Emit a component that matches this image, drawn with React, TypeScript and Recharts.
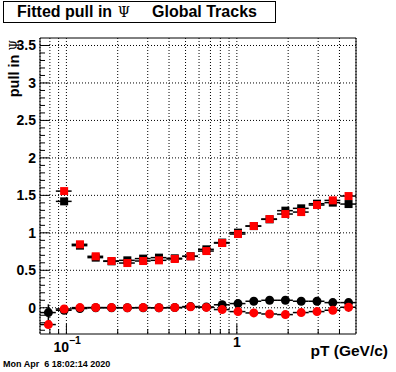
import React from 'react';
import { ScatterChart, Scatter, XAxis, YAxis, CartesianGrid, ErrorBar, ReferenceArea } from 'recharts';

// 20 log-spaced pT bins, 0.07 .. 5 GeV/c
const BIN_EDGES = [
  0.07, 0.0867, 0.1073, 0.1328, 0.1644, 0.2036, 0.252, 0.312, 0.3863, 0.4782, 0.5916,
  0.7329, 0.9073, 1.1233, 1.3906, 1.7216, 2.1313, 2.6385, 3.2665, 4.0439, 5.0,
];
const BIN_CENTERS = [
  0.0784, 0.097, 0.1201, 0.1486, 0.184, 0.2278, 0.282, 0.3492, 0.4323, 0.5351,
  0.6625, 0.8201, 1.0153, 1.257, 1.5561, 1.9265, 2.3849, 2.9525, 3.6552, 4.522,
];

// sigma of pull (squares), mean of pull (circles)
const BLACK_SQUARES = [
  null, 1.42, 0.829, 0.669, 0.62, 0.633, 0.656, 0.669, 0.66, 0.687,
  0.78, 0.87, 1.003, 1.09, 1.18, 1.296, 1.327, 1.389, 1.403, 1.384,
];
const RED_SQUARES = [
  null, 1.557, 0.847, 0.687, 0.624, 0.597, 0.624, 0.633, 0.651, 0.687,
  0.757, 0.864, 0.984, 1.091, 1.184, 1.251, 1.277, 1.371, 1.433, 1.491,
];
const BLACK_CIRCLES = [
  -0.064, -0.033, -0.01, 0.0, 0.001, 0.0, 0.001, 0.0, 0.002, 0.016,
  0.01, 0.04, 0.056, 0.087, 0.1, 0.1, 0.087, 0.087, 0.069, 0.069,
];
const RED_CIRCLES = [
  -0.224, -0.016, 0.002, 0.003, 0.002, 0.001, 0.002, 0.0, 0.003, 0.012,
  0.005, -0.024, -0.051, -0.069, -0.083, -0.091, -0.064, -0.051, -0.033, 0.007,
];
const BLACK_CIRCLE_ERR = [
  0.11, 0.02, 0.01, 0.01, 0.01, 0.01, 0.01, 0.01, 0.01, 0.01,
  0.01, 0.01, 0.01, 0.01, 0.01, 0.01, 0.015, 0.015, 0.02, 0.03,
];
const RED_CIRCLE_ERR = [
  0.03, 0.02, 0.01, 0.01, 0.01, 0.01, 0.01, 0.01, 0.01, 0.01,
  0.01, 0.01, 0.01, 0.01, 0.01, 0.01, 0.015, 0.015, 0.02, 0.06,
];

const X_TICKS = [0.08, 0.09, 0.1, 0.2, 0.3, 0.4, 0.5, 0.6, 0.7, 0.8, 0.9, 1, 2, 3, 4];
const X_MAJOR = [0.1, 1];
const Y_TICKS = [
  -0.3, -0.2, -0.1, 0, 0.1, 0.2, 0.3, 0.4, 0.5, 0.6, 0.7, 0.8, 0.9, 1, 1.1, 1.2, 1.3, 1.4, 1.5,
  1.6, 1.7, 1.8, 1.9, 2, 2.1, 2.2, 2.3, 2.4, 2.5, 2.6, 2.7, 2.8, 2.9, 3, 3.1, 3.2, 3.3, 3.4, 3.5,
];
const Y_MAJOR = [0, 0.5, 1, 1.5, 2, 2.5, 3, 3.5];

const FONT = "'Liberation Sans', Arial, sans-serif";

function points(values: (number | null)[], yErr?: number[]) {
  return BIN_CENTERS.map((x, i) => ({
    x,
    y: values[i],
    ex: [x - BIN_EDGES[i], BIN_EDGES[i + 1] - x],
    ey: yErr ? yErr[i] : 0,
  })).filter((p) => p.y !== null);
}

const square = (color: string) => (props: any) =>
  <rect x={props.cx - 4} y={props.cy - 4} width={8} height={8} fill={color} />;
const dot = (color: string) => (props: any) =>
  <circle cx={props.cx} cy={props.cy} r={4.5} fill={color} />;

const XTick = (props: any) => {
  const { x, y, payload } = props;
  const major = X_MAJOR.includes(payload.value);
  return (
    <g>
      <line x1={x} x2={x} y1={y} y2={y - (major ? 10 : 5)} stroke="#000" />
      {payload.value === 0.1 && (
        <text x={x - 13} y={y + 18} fontFamily={FONT} fontWeight="bold" fontSize={14}>
          10<tspan dy={-8} fontSize={10.5}>−1</tspan>
        </text>
      )}
      {payload.value === 1 && (
        <text x={x} y={y + 13} textAnchor="middle" fontFamily={FONT} fontWeight="bold" fontSize={14}>1</text>
      )}
    </g>
  );
};

const YTick = (props: any) => {
  const { x, y, payload } = props;
  const major = Y_MAJOR.includes(payload.value);
  return (
    <g>
      <line x1={x} x2={x + (major ? 9 : 5)} y1={y} y2={y} stroke="#000" />
      {major && (
        <text x={x - 4} y={y + 5} textAnchor="end" fontFamily={FONT} fontWeight="bold" fontSize={14}>
          {String(payload.value)}
        </text>
      )}
    </g>
  );
};

export default function App() {
  return (
    <div style={{ position: 'absolute', left: 0, top: 0, width: 396, height: 372, background: '#fff' }}>
      <ScatterChart width={396} height={372} margin={{ top: 38, right: 40, bottom: 0, left: 0 }}>
        <CartesianGrid stroke="#000" strokeDasharray="1 2" horizontalValues={Y_MAJOR} />
        <XAxis
          type="number" dataKey="x" scale="log" domain={[0.07, 5]} allowDataOverflow
          ticks={X_TICKS} interval={0} height={38} axisLine={false} tickLine={false}
          tickSize={0} tickMargin={0} tick={<XTick />}
        />
        <YAxis
          type="number" dataKey="y" domain={[-0.35, 3.6]} allowDataOverflow
          ticks={Y_TICKS} interval={0} width={40} axisLine={false} tickLine={false}
          tickSize={0} tickMargin={0} tick={<YTick />}
        />
        <ReferenceArea x1={0.07} x2={5} y1={-0.35} y2={3.6} fill="none" stroke="#000" strokeWidth={1} />
        <Scatter data={points(BLACK_SQUARES)} shape={square('#000')} isAnimationActive={false}>
          <ErrorBar dataKey="ex" direction="x" width={0} stroke="#000" />
        </Scatter>
        <Scatter data={points(BLACK_CIRCLES, BLACK_CIRCLE_ERR)} shape={dot('#000')} isAnimationActive={false}>
          <ErrorBar dataKey="ex" direction="x" width={0} stroke="#000" />
          <ErrorBar dataKey="ey" direction="y" width={0} stroke="#000" />
        </Scatter>
        <Scatter data={points(RED_SQUARES)} shape={square('#ff0000')} isAnimationActive={false}>
          <ErrorBar dataKey="ex" direction="x" width={0} stroke="#000" />
        </Scatter>
        <Scatter data={points(RED_CIRCLES, RED_CIRCLE_ERR)} shape={dot('#ff0000')} isAnimationActive={false}>
          <ErrorBar dataKey="ex" direction="x" width={0} stroke="#000" />
          <ErrorBar dataKey="ey" direction="y" width={0} stroke="#000" />
        </Scatter>
      </ScatterChart>
      <svg width={396} height={372} style={{ position: 'absolute', left: 0, top: 0, pointerEvents: 'none' }}>
        <rect x={3.5} y={1.5} width={272} height={21} fill="#fff" stroke="#000" />
        <text x={17} y={17} fontFamily={FONT} fontWeight="bold" fontSize={16}>Fitted pull in</text>
        <text x={124} y={17} textAnchor="middle" fontFamily="'DejaVu Serif', serif" fontSize={14}>Ψ</text>
        <text x={152} y={17} fontFamily={FONT} fontWeight="bold" fontSize={16}>Global Tracks</text>
        <text transform="translate(19,40) rotate(-90)" textAnchor="end" fontFamily={FONT} fontWeight="bold" fontSize={14.5}>
          pull in <tspan fontFamily="'DejaVu Serif', serif" fontWeight="normal" fontSize={12}>Ψ</tspan>
        </text>
        <text x={388} y={356} textAnchor="end" fontFamily={FONT} fontWeight="bold" fontSize={15.5}>pT (GeV/c)</text>
        <text x={3} y={367} fontFamily={FONT} fontWeight="bold" fontSize={9} style={{ whiteSpace: 'pre' }}>
          Mon Apr  6 18:02:14 2020
        </text>
      </svg>
    </div>
  );
}
